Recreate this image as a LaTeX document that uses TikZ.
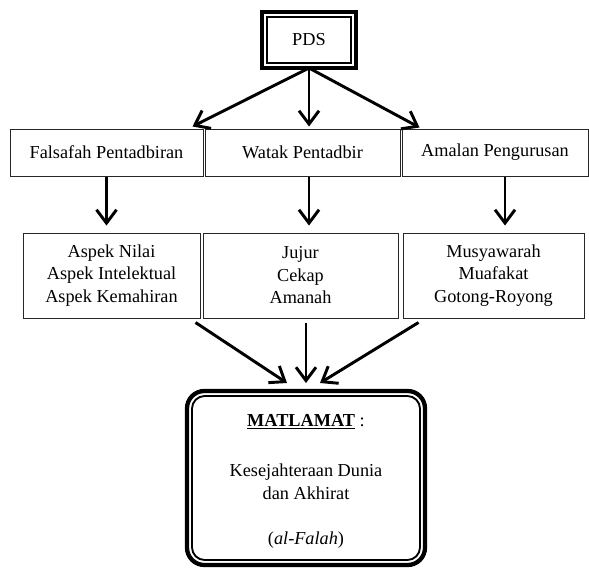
\documentclass[tikz,border=0pt]{standalone}
\usepackage{fontspec}
\setmainfont{Liberation Serif}
\usetikzlibrary{arrows.meta,calc}
\begin{document}
\begin{tikzpicture}[x=0.75pt, y=-0.75pt,
  every node/.style={font=\fontsize{13.7}{16.9}\selectfont},
  box/.style={draw=black!85, line width=0.75pt, inner sep=0pt, align=center},
  frame/.style={draw, line width=3.2pt, outer sep=0pt, inner sep=0pt, align=center},
  flow/.style={-{Straight Barb[length=10pt,width=15pt]}, line width=2.2pt}]
  \useasboundingbox (0,0) rectangle (589,568);
  % top
  \node[frame,minimum width=70.5pt,minimum height=42pt] (pds) at (309,40) {PDS};
  \draw[line width=1.4pt] ([shift={(5,5)}]pds.north west) rectangle ([shift={(-5,-5)}]pds.south east);
  % first row
  \node[box,minimum width=144.75pt,minimum height=35.25pt] (fals) at (106.5,152.5) {Falsafah Pentadbiran};
  \node[box,minimum width=146.25pt,minimum height=35.25pt] (watak) at (302.5,152.5) {Watak Pentadbir};
  \node[box,minimum width=139.5pt,minimum height=35.25pt] (amalan) at (495,152.5) {Amalan Pengurusan};
  % second row
  \node[box,minimum width=132.75pt,minimum height=63.75pt] (aspek) at (111.5,275.5) {Aspek Nilai\\Aspek Intelektual\\Aspek Kemahiran};
  \node[box,minimum width=146.25pt,minimum height=63.75pt] (jujur) at (300.5,275.5) {Jujur\\Cekap\\Amanah};
  \node[box,minimum width=135.75pt,minimum height=63.75pt] (musy) at (493.5,275.5) {Musyawarah\\Muafakat\\Gotong-Royong};
  % goal
  \node[frame,rounded corners=13pt,minimum width=178.5pt,minimum height=130.5pt] (mat) at (306,478)
    {\rule{0pt}{14pt}\underline{\textbf{MATLAMAT}} :\\[20.6pt]Kesejahteraan Dunia\\dan Akhirat\\[16.9pt](\textit{al-Falah})};
  \draw[line width=1.4pt,rounded corners=9.5pt] ([shift={(5,5)}]mat.north west) rectangle ([shift={(-5,-5)}]mat.south east);
  % arrows
  \draw[flow] (pds.south) -- ($(fals.north east)+(-11,-2)$);
  \draw[flow] (pds.south) -- ($(pds.south |- watak.north)+(0,-2)$);
  \draw[flow] (pds.south) -- ($(amalan.north west)+(18,-1)$);
  \draw[flow] (fals.south) -- ($(fals.south |- aspek.north)+(0,-7)$);
  \draw[flow] (pds.south |- watak.south) -- ($(pds.south |- jujur.north)+(0,-7)$);
  \draw[flow] ($(amalan.south)+(10,0)$) -- ($(amalan.south |- musy.north)+(10,-7)$);
  \draw[flow] ($(aspek.south east)+(-5,4)$) -- ($(mat.north)+(-19,-8)$);
  \draw[flow] ($(mat.north |- jujur.south)+(0,4)$) -- ($(mat.north)+(0,-8)$);
  \draw[flow] ($(musy.south west)+(16,4)$) -- ($(mat.north)+(14,-8)$);
\end{tikzpicture}
\end{document}
